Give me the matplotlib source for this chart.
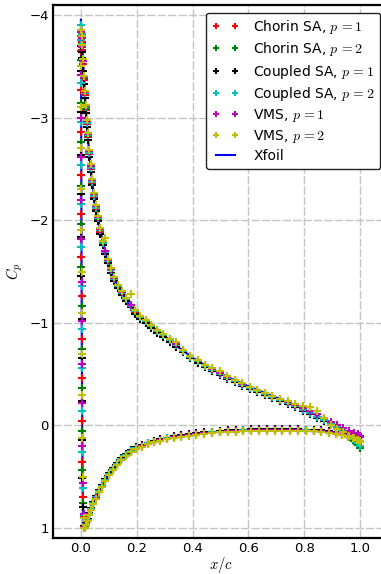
import matplotlib
matplotlib.use("Agg")
import matplotlib.pyplot as plt

plt.rcParams['mathtext.fontset'] = 'cm'
plt.rcParams['font.family'] = ['DejaVu Sans']

# ---------------- data ----------------
x_upper = [0.001, 0.003, 0.005, 0.008, 0.011, 0.014, 0.017, 0.021, 0.025, 0.030,
           0.035, 0.041, 0.047, 0.054, 0.061, 0.069, 0.078, 0.087, 0.097, 0.108,
           0.120, 0.133, 0.147, 0.162, 0.178, 0.195, 0.213, 0.232, 0.252, 0.273,
           0.295, 0.318, 0.342, 0.367, 0.392, 0.418, 0.444, 0.470, 0.497, 0.524,
           0.551, 0.578, 0.605, 0.632, 0.659, 0.686, 0.713, 0.740, 0.767, 0.794,
           0.820, 0.846, 0.871, 0.895, 0.918, 0.940, 0.960, 0.978, 0.992, 1.000]

x_lower = [0.0003, 0.0006, 0.0009, 0.0012, 0.0015, 0.0018, 0.0022, 0.0027, 0.0034, 0.0043,
           0.0056, 0.0075,
           0.0095, 0.012, 0.015, 0.019, 0.024, 0.030, 0.037, 0.045, 0.054, 0.064,
           0.075, 0.087, 0.100, 0.114, 0.129, 0.145, 0.162, 0.180, 0.199, 0.219,
           0.240, 0.262, 0.285, 0.309, 0.334, 0.360, 0.387, 0.414, 0.442, 0.470,
           0.498, 0.526, 0.554, 0.582, 0.610, 0.638, 0.666, 0.694, 0.722, 0.750,
           0.778, 0.806, 0.834, 0.861, 0.887, 0.912, 0.935, 0.956, 0.974, 0.989, 1.000]

cp_upper_chorin_p1 = [-3.80, -3.74, -3.66, -3.52, -3.37, -3.22, -3.08, -2.94, -2.81, -2.65,
                      -2.50, -2.36, -2.23, -2.11, -2.01, -1.89, -1.78, -1.68, -1.59, -1.51,
                      -1.43, -1.35, -1.29, -1.22, -1.16, -1.10, -1.06, -1.01, -0.97, -0.92,
                      -0.87, -0.83, -0.78, -0.72, -0.67, -0.62, -0.58, -0.54, -0.50, -0.46,
                      -0.43, -0.39, -0.36, -0.33, -0.30, -0.27, -0.24, -0.21, -0.18, -0.15,
                      -0.12, -0.08, -0.05, -0.01, 0.02, 0.06, 0.09, 0.12, 0.14, 0.16]
cp_lower_chorin_p1 = [-3.65, -3.27, -2.86, -2.44, -2.06, -1.64, -1.26, -0.84, -0.46, -0.04,
                      0.36, 0.70,
                      0.89, 0.99, 0.99, 0.96, 0.92, 0.87, 0.82, 0.76, 0.70, 0.645,
                      0.59, 0.535, 0.48, 0.425, 0.375, 0.33, 0.29, 0.255, 0.225, 0.20,
                      0.178, 0.16, 0.143, 0.128, 0.115, 0.103, 0.093, 0.084, 0.076, 0.069,
                      0.063, 0.058, 0.054, 0.051, 0.049, 0.047, 0.046, 0.046, 0.046, 0.047,
                      0.048, 0.05, 0.053, 0.058, 0.066, 0.077, 0.09, 0.105, 0.12, 0.135, 0.15]

cp_upper_chorin_p2 = [-3.86, -3.80, -3.70, -3.55, -3.39, -3.24, -3.09, -2.95, -2.82, -2.66,
                      -2.51, -2.37, -2.24, -2.12, -2.01, -1.90, -1.78, -1.69, -1.60, -1.51,
                      -1.43, -1.36, -1.29, -1.23, -1.16, -1.11, -1.06, -1.02, -0.97, -0.92,
                      -0.88, -0.83, -0.78, -0.72, -0.67, -0.63, -0.58, -0.54, -0.50, -0.47,
                      -0.43, -0.40, -0.37, -0.34, -0.31, -0.28, -0.25, -0.22, -0.19, -0.155,
                      -0.12, -0.085, -0.05, -0.01, 0.03, 0.07, 0.11, 0.15, 0.19, 0.22]
cp_lower_chorin_p2 = [-3.56, -3.14, -2.76, -2.33, -1.96, -1.54, -1.16, -0.74, -0.36, 0.06,
                      0.44, 0.76,
                      0.90, 0.99, 0.99, 0.96, 0.92, 0.87, 0.82, 0.76, 0.70, 0.645,
                      0.59, 0.535, 0.48, 0.425, 0.375, 0.33, 0.29, 0.255, 0.225, 0.20,
                      0.178, 0.16, 0.143, 0.128, 0.115, 0.103, 0.093, 0.084, 0.076, 0.069,
                      0.063, 0.058, 0.054, 0.051, 0.049, 0.047, 0.046, 0.046, 0.046, 0.047,
                      0.048, 0.05, 0.053, 0.058, 0.066, 0.078, 0.093, 0.11, 0.14, 0.18, 0.22]

cp_upper_coupled_p1 = [-3.70, -3.64, -3.58, -3.46, -3.33, -3.19, -3.05, -2.91, -2.78, -2.62,
                       -2.47, -2.34, -2.21, -2.09, -1.99, -1.87, -1.76, -1.67, -1.58, -1.49,
                       -1.41, -1.34, -1.27, -1.21, -1.15, -1.09, -1.04, -1.00, -0.95, -0.90,
                       -0.86, -0.81, -0.76, -0.71, -0.66, -0.61, -0.57, -0.53, -0.49, -0.455,
                       -0.42, -0.385, -0.355, -0.325, -0.295, -0.265, -0.235, -0.205, -0.175, -0.14,
                       -0.11, -0.075, -0.04, -0.005, 0.03, 0.06, 0.09, 0.115, 0.135, 0.15]
cp_lower_coupled_p1 = [-3.46, -3.06, -2.64, -2.26, -1.84, -1.46, -1.04, -0.66, -0.24, 0.14,
                       0.51, 0.80,
                       0.90, 0.98, 0.98, 0.95, 0.91, 0.86, 0.81, 0.75, 0.69, 0.635,
                       0.58, 0.525, 0.47, 0.415, 0.365, 0.32, 0.28, 0.245, 0.215, 0.19,
                       0.17, 0.152, 0.135, 0.12, 0.107, 0.095, 0.085, 0.076, 0.068, 0.061,
                       0.055, 0.05, 0.046, 0.043, 0.041, 0.039, 0.038, 0.038, 0.038, 0.039,
                       0.04, 0.042, 0.045, 0.05, 0.058, 0.07, 0.084, 0.10, 0.115, 0.13, 0.15]

cp_upper_coupled_p2 = [-3.90, -3.82, -3.72, -3.56, -3.40, -3.24, -3.10, -2.95, -2.83, -2.66,
                       -2.51, -2.37, -2.24, -2.12, -2.02, -1.90, -1.78, -1.69, -1.60, -1.51,
                       -1.43, -1.36, -1.29, -1.23, -1.16, -1.11, -1.06, -1.02, -0.97, -0.92,
                       -0.88, -0.83, -0.78, -0.72, -0.67, -0.625, -0.58, -0.54, -0.50, -0.465,
                       -0.43, -0.395, -0.365, -0.335, -0.305, -0.275, -0.245, -0.215, -0.185, -0.15,
                       -0.12, -0.085, -0.05, -0.015, 0.02, 0.06, 0.10, 0.13, 0.17, 0.20]
cp_lower_coupled_p2 = [-3.76, -3.34, -2.96, -2.54, -2.16, -1.74, -1.36, -0.94, -0.56, -0.14,
                       0.26, 0.61,
                       0.88, 0.99, 0.99, 0.96, 0.92, 0.87, 0.82, 0.76, 0.70, 0.645,
                       0.59, 0.535, 0.48, 0.425, 0.375, 0.33, 0.29, 0.255, 0.225, 0.20,
                       0.178, 0.16, 0.143, 0.128, 0.115, 0.103, 0.093, 0.084, 0.076, 0.069,
                       0.063, 0.058, 0.054, 0.051, 0.049, 0.047, 0.046, 0.046, 0.046, 0.047,
                       0.048, 0.05, 0.053, 0.058, 0.066, 0.077, 0.09, 0.106, 0.13, 0.165, 0.20]

cp_upper_vms_p1 = [-3.84, -3.78, -3.69, -3.55, -3.40, -3.25, -3.11, -2.97, -2.84, -2.68,
                   -2.53, -2.39, -2.26, -2.14, -2.03, -1.91, -1.80, -1.70, -1.61, -1.52,
                   -1.44, -1.37, -1.30, -1.24, -1.17, -1.12, -1.07, -1.03, -0.98, -0.93,
                   -0.89, -0.84, -0.79, -0.73, -0.68, -0.635, -0.59, -0.55, -0.51, -0.475,
                   -0.44, -0.405, -0.375, -0.345, -0.315, -0.285, -0.255, -0.225, -0.195, -0.165,
                   -0.14, -0.105, -0.07, -0.03, 0.0, 0.03, 0.06, 0.08, 0.09, 0.10]
cp_lower_vms_p1 = [-3.80, -3.42, -3.00, -2.62, -2.20, -1.82, -1.40, -1.02, -0.60, -0.22,
                   0.20, 0.56,
                   0.87, 0.99, 1.00, 0.97, 0.93, 0.88, 0.83, 0.77, 0.71, 0.655,
                   0.60, 0.545, 0.49, 0.435, 0.385, 0.34, 0.30, 0.262, 0.23, 0.205,
                   0.182, 0.163, 0.146, 0.131, 0.118, 0.106, 0.095, 0.086, 0.078, 0.071,
                   0.065, 0.06, 0.056, 0.053, 0.051, 0.049, 0.048, 0.048, 0.048, 0.049,
                   0.05, 0.052, 0.055, 0.06, 0.067, 0.076, 0.086, 0.095, 0.103, 0.108, 0.11]

cp_upper_vms_p2 = [-3.86, -3.80, -3.71, -3.57, -3.41, -3.26, -3.12, -2.98, -2.85, -2.69,
                   -2.55, -2.40, -2.27, -2.15, -2.04, -1.92, -1.80, -1.83, -1.62, -1.53,
                   -1.45, -1.37, -1.31, -1.24, -1.28, -1.12, -1.07, -1.03, -0.98, -0.93,
                   -0.89, -0.84, -0.81, -0.73, -0.68, -0.64, -0.59, -0.56, -0.53, -0.48,
                   -0.44, -0.41, -0.375, -0.345, -0.315, -0.285, -0.26, -0.235, -0.21, -0.19,
                   -0.175, -0.14, -0.07, 0.0, 0.04, 0.07, 0.10, 0.12, 0.14, 0.16]
cp_lower_vms_p2 = [-3.86, -3.50, -3.10, -2.70, -2.30, -1.90, -1.50, -1.10, -0.70, -0.30,
                   0.12, 0.50,
                   0.90, 1.00, 1.00, 0.97, 0.93, 0.88, 0.83, 0.77, 0.715, 0.655,
                   0.60, 0.545, 0.49, 0.435, 0.385, 0.34, 0.30, 0.265, 0.235, 0.208,
                   0.186, 0.168, 0.15, 0.135, 0.122, 0.11, 0.10, 0.091, 0.083, 0.076,
                   0.07, 0.065, 0.061, 0.058, 0.056, 0.054, 0.053, 0.053, 0.053, 0.054,
                   0.055, 0.057, 0.06, 0.065, 0.073, 0.084, 0.097, 0.11, 0.125, 0.14, 0.15]

xfoil_x_upper = [0.0, 0.002, 0.005, 0.01, 0.015, 0.02, 0.03, 0.04, 0.05, 0.06, 0.08, 0.10,
                 0.125, 0.15, 0.175, 0.2, 0.25, 0.3, 0.35, 0.4, 0.45, 0.5, 0.55, 0.6,
                 0.65, 0.7, 0.75, 0.8, 0.85, 0.9, 0.95, 1.0]
xfoil_cp_upper = [-3.96, -3.86, -3.72, -3.45, -3.18, -2.99, -2.64, -2.38, -2.19, -2.03, -1.77, -1.57,
                  -1.40, -1.27, -1.17, -1.09, -0.97, -0.87, -0.76, -0.66, -0.575, -0.505, -0.44, -0.38,
                  -0.325, -0.27, -0.215, -0.155, -0.09, -0.02, 0.06, 0.14]
xfoil_x_lower = [0.0, 0.0005, 0.001, 0.0015, 0.002, 0.003, 0.004, 0.006, 0.008, 0.011, 0.014,
                 0.02, 0.03, 0.04, 0.05, 0.06, 0.08, 0.10, 0.125, 0.15, 0.175, 0.2, 0.25,
                 0.3, 0.35, 0.4, 0.45, 0.5, 0.6, 0.7, 0.8, 0.85, 0.9, 0.95, 1.0]
xfoil_cp_lower = [-3.96, -3.55, -2.95, -2.35, -1.8, -0.95, -0.3, 0.45, 0.82, 0.99, 1.0,
                  0.95, 0.87, 0.79, 0.73, 0.665, 0.56, 0.48, 0.40, 0.335, 0.28, 0.225, 0.165,
                  0.133, 0.105, 0.088, 0.075, 0.063, 0.049, 0.046, 0.05, 0.056, 0.07, 0.10, 0.14]

labels = ["Chorin SA, $p\\,{=}1$", "Chorin SA, $p\\,{=}2$",
          "Coupled SA, $p\\,{=}1$", "Coupled SA, $p\\,{=}2$",
          "VMS, $p\\,{=}1$", "VMS, $p\\,{=}2$", "Xfoil"]
x_ticks = [0.0, 0.2, 0.4, 0.6, 0.8, 1.0]
y_ticks = [-4, -3, -2, -1, 0, 1]

series = [
    (cp_upper_chorin_p1, cp_lower_chorin_p1, 'r'),
    (cp_upper_chorin_p2, cp_lower_chorin_p2, 'g'),
    (cp_upper_coupled_p1, cp_lower_coupled_p1, 'k'),
    (cp_upper_coupled_p2, cp_lower_coupled_p2, 'c'),
    (cp_upper_vms_p1, cp_lower_vms_p1, 'm'),
    (cp_upper_vms_p2, cp_lower_vms_p2, 'y'),
]

# ---------------- figure ----------------
W, H = 381, 574
fig = plt.figure(figsize=(W / 100, H / 100), dpi=100)
ax = fig.add_axes([53 / W, 36 / H, (388 - 53) / W, (538 - 5) / H])

handles = []
for (cu, cl, col), lab in zip(series, labels):
    xs = list(reversed(x_upper)) + x_lower
    ys = list(reversed(cu)) + cl
    h, = ax.plot(xs, ys, linestyle='none', marker='+', color=col,
                 markersize=5.5, markeredgewidth=1.5, label=lab, zorder=3)
    handles.append(h)

xf = list(reversed(xfoil_x_upper)) + xfoil_x_lower
yf = list(reversed(xfoil_cp_upper)) + xfoil_cp_lower
hx, = ax.plot(xf, yf, color='b', linewidth=1.5, label=labels[-1], zorder=2)
handles.append(hx)

ax.set_xlim(-0.1, 1.1)
ax.set_ylim(1.1, -4.1)
ax.set_xticks(x_ticks)
ax.set_yticks(y_ticks)
ax.set_xticklabels([f"{t:.1f}" for t in x_ticks])
ax.set_yticklabels([("\u2212" + str(-t)) if t < 0 else str(t) for t in y_ticks])
ax.tick_params(direction='in', length=0, width=1, labelsize=9.5, pad=3)

ax.grid(True, color='#c4c4c4', linestyle=(0, (6, 1.5)), linewidth=1.0, zorder=0)
ax.set_axisbelow(True)
for s in ax.spines.values():
    s.set_linewidth(1.6)

ax.set_xlabel('$x/c$', fontsize=10.5, labelpad=0)
ax.set_ylabel('$C_p$', fontsize=10.5, labelpad=3)

leg = ax.legend(handles=handles, loc='upper right', numpoints=2, fontsize=10,
                handlelength=2.0, handletextpad=1.0, labelspacing=0.3,
                borderaxespad=0.55, fancybox=True, framealpha=1.0,
                edgecolor='#222222', markerscale=0.75)
leg.get_frame().set_linewidth(1.0)

fig.savefig('out.png', dpi=100)
